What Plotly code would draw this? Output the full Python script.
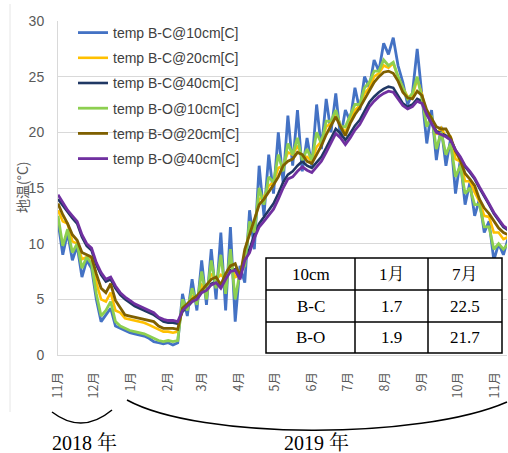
import pandas as pd
import plotly.graph_objects as go

# ---------------- data (4-day samples) ----------------
start_date = "2018-11-01"
n_points = 95

bc10 = [12.0, 9.0, 11.0, 8.5, 9.8, 7.0, 8.5, 7.8,
        5.0, 3.0, 3.6, 4.2, 2.6, 2.4, 2.2, 2.0,
        1.9, 1.8, 1.7, 1.5, 1.2, 1.1, 1.0,
        1.1, 0.9, 1.1, 5.5, 3.5, 6.8, 4.0,
        8.5, 4.5, 9.5, 5.0, 11.0, 4.0, 11.5, 3.0,
        8.0, 6.5, 13.0, 9.5, 17.0, 12.5, 18.0, 14.5,
        20.0, 15.5, 21.5, 17.0, 22.0, 16.5, 19.5,
        17.0, 22.5, 18.5, 23.0, 20.0, 23.5, 19.5, 22.0,
        21.0, 24.0, 22.0, 25.0, 24.0, 26.5, 25.5, 28.0,
        27.0, 28.5, 26.0, 24.5, 22.5, 23.5, 27.5,
        23.0, 19.0, 22.0, 17.5, 20.5, 17.0, 19.5, 14.5,
        17.5, 13.5, 15.5, 12.5, 14.0, 11.0, 12.0, 8.5,
        10.0, 9.0, 10.5]

bc20 = [13.0, 12.0, 11.8, 10.2, 10.0, 8.6, 8.8, 8.7,
        6.5, 5.0, 4.8, 5.6, 4.0, 3.8, 3.3, 3.2,
        3.1, 3.0, 2.9, 2.7, 2.5, 2.3, 2.1,
        2.1, 2.0, 2.1, 4.3, 4.4, 5.3, 5.0,
        6.3, 5.9, 7.3, 6.8, 7.2, 6.8, 8.5, 7.0,
        7.2, 9.0, 11.3, 11.8, 14.0, 14.2, 15.2, 15.5,
        16.8, 17.0, 18.2, 18.0, 18.8, 17.8, 17.8,
        17.4, 18.7, 19.2, 20.5, 20.8, 21.8, 20.6, 20.0,
        21.0, 22.0, 22.4, 23.5, 24.0, 25.0, 25.3, 26.0,
        25.8, 26.2, 25.0, 24.0, 23.2, 23.2, 24.8,
        23.4, 21.5, 21.3, 19.8, 20.4, 19.6, 19.6, 17.6,
        17.4, 15.6, 15.6, 14.6, 13.8, 12.5, 12.4, 11.0,
        11.0, 10.4, 10.6]

bc40 = [14.0, 13.4, 12.8, 12.3, 11.8, 10.6, 9.8, 9.4,
        8.1, 7.2, 6.6, 6.8, 6.0, 5.4, 5.0, 4.7,
        4.4, 4.2, 4.0, 3.8, 3.6, 3.3, 3.0,
        2.9, 2.9, 2.8, 3.9, 4.3, 4.8, 5.0,
        5.7, 5.9, 6.4, 6.6, 6.1, 6.9, 7.6, 7.7,
        6.9, 8.7, 9.5, 10.8, 11.8, 12.4, 13.0, 13.6,
        14.5, 15.5, 16.2, 16.5, 17.0, 17.4, 17.0,
        16.8, 17.3, 17.8, 18.6, 19.4, 20.3, 19.9, 19.3,
        19.9, 20.6, 21.1, 21.9, 22.7, 23.2, 23.6, 23.9,
        24.1, 24.0, 23.3, 22.6, 22.3, 22.5, 23.0,
        22.8, 21.7, 20.9, 20.1, 19.9, 19.7, 19.3, 18.4,
        17.7, 16.9, 16.4, 15.8, 15.0, 14.3, 13.5, 12.7,
        12.1, 11.5, 11.2]

bo10 = [12.5, 9.8, 11.3, 9.2, 10.0, 7.8, 8.8, 8.2,
        5.5, 3.5, 4.0, 4.8, 3.0, 2.6, 2.4, 2.2,
        2.1, 2.0, 1.9, 1.7, 1.5, 1.3, 1.2,
        1.3, 1.2, 1.3, 5.0, 4.0, 6.0, 4.5,
        7.5, 5.0, 8.5, 6.0, 9.0, 5.5, 9.5, 5.0,
        7.5, 8.0, 12.0, 11.0, 15.0, 13.5, 16.0, 15.5,
        18.0, 16.5, 19.0, 18.0, 19.5, 17.5, 18.5,
        17.5, 20.0, 19.0, 21.0, 21.0, 22.0, 20.5, 20.5,
        21.5, 22.5, 22.5, 24.0, 24.5, 25.5, 25.5, 26.5,
        26.0, 26.3, 25.0, 24.0, 23.0, 23.5, 25.0,
        23.0, 20.5, 21.5, 18.5, 20.0, 18.0, 19.0, 16.0,
        17.0, 14.5, 15.0, 13.5, 13.5, 11.5, 11.5, 9.5,
        10.0, 9.5, 10.0]

bo20 = [13.6, 12.6, 11.8, 10.8, 10.3, 9.2, 9.0, 8.8,
        7.3, 6.0, 5.6, 6.4, 4.9, 4.2, 3.6, 3.5,
        3.4, 3.3, 3.2, 3.1, 3.0, 2.6, 2.4,
        2.4, 2.4, 2.3, 4.2, 4.6, 5.0, 5.3,
        5.8, 6.2, 6.8, 7.0, 6.3, 7.3, 8.0, 8.2,
        7.0, 9.5, 10.8, 12.0, 13.5, 14.0, 14.6, 15.3,
        16.0, 17.0, 17.4, 17.6, 18.2, 18.0, 17.4,
        17.2, 18.0, 18.8, 19.8, 20.6, 21.4, 20.5, 19.7,
        20.8, 21.6, 22.2, 23.0, 23.8, 24.5, 25.0, 25.4,
        25.5, 25.3, 24.6, 23.6, 23.1, 23.0, 23.7,
        23.3, 22.0, 21.2, 20.5, 20.3, 20.3, 19.5, 18.3,
        17.5, 16.3, 15.8, 15.2, 14.0, 13.2, 12.7, 12.0,
        11.4, 11.0, 10.8]

bo40 = [14.4, 13.7, 13.0, 12.5, 12.0, 10.8, 10.0, 9.6,
        8.3, 7.4, 6.8, 7.0, 6.2, 5.6, 5.2, 4.9,
        4.6, 4.4, 4.2, 4.0, 3.8, 3.4, 3.2,
        3.1, 3.1, 3.0, 4.0, 4.4, 4.8, 5.0,
        5.6, 5.8, 6.3, 6.5, 6.0, 6.8, 7.5, 7.6,
        6.8, 8.5, 9.2, 10.5, 11.5, 12.0, 12.5, 13.1,
        14.0, 15.0, 15.8, 16.0, 16.5, 16.9, 16.6,
        16.4, 16.9, 17.4, 18.2, 19.0, 19.9, 19.5, 18.9,
        19.5, 20.2, 20.7, 21.5, 22.3, 22.8, 23.2, 23.5,
        23.7, 23.6, 23.0, 22.4, 22.1, 22.3, 22.8,
        22.6, 21.6, 20.8, 20.0, 19.8, 19.6, 19.3, 18.4,
        17.8, 17.0, 16.5, 15.9, 15.1, 14.4, 13.6, 12.8,
        12.2, 11.6, 11.3]

series_names = ["temp B-C@10cm[C]", "temp B-C@20cm[C]", "temp B-C@40cm[C]",
                "temp B-O@10cm[C]", "temp B-O@20cm[C]", "temp B-O@40cm[C]"]

xtick_dates = ["2018-11-01", "2018-12-01", "2019-01-01", "2019-02-01", "2019-03-01",
               "2019-04-01", "2019-05-01", "2019-06-01", "2019-07-01", "2019-08-01",
               "2019-09-01", "2019-10-01", "2019-11-01"]
xtick_text = ["11月", "12月", "1月", "2月", "3月", "4月", "5月", "6月", "7月", "8月",
              "9月", "10月", "11月"]

y_title = "地温(°C)"

table_header = ["10cm", "1月", "7月"]
table_rows = [["B-C", "1.7", "22.5"],
              ["B-O", "1.9", "21.7"]]

year_labels = ["2018 年", "2019 年"]

# ---------------- styling ----------------
colors = ["#4472C4", "#FFC000", "#203864", "#8DCF50", "#7F6000", "#7030A0"]
widths = [2.8, 2.6, 2.6, 2.8, 2.8, 2.8]

W, H = 508, 453
L, R, T, B = 58, 1, 21, 98
PW, PH = W - L - R, H - T - B


def px(x):
    return (x - L) / PW


def py(y):
    return (H - B - y) / PH


dates = pd.date_range(start_date, periods=n_points, freq="4D")
values = [bc10, bc20, bc40, bo10, bo20, bo40]

fig = go.Figure()
for i, (name, vals) in enumerate(zip(series_names, values)):
    fig.add_trace(go.Scatter(
        x=dates, y=vals, mode="lines", name=name,
        legendgroup=f"g{i}",
        line=dict(color=colors[i], width=widths[i]),
    ))

shapes = []
annotations = []

# table
tx = [266, 355, 428, 502]
ty = [258, 290, 322, 353]
shapes.append(dict(type="rect", xref="paper", yref="paper",
                   x0=px(tx[0]), x1=px(tx[-1]), y0=py(ty[-1]), y1=py(ty[0]),
                   fillcolor="white", line=dict(color="black", width=1.5), layer="above"))
for xv in tx[1:-1]:
    shapes.append(dict(type="line", xref="paper", yref="paper",
                       x0=px(xv), x1=px(xv), y0=py(ty[-1]), y1=py(ty[0]),
                       line=dict(color="black", width=1.5)))
for yv in ty[1:-1]:
    shapes.append(dict(type="line", xref="paper", yref="paper",
                       x0=px(tx[0]), x1=px(tx[-1]), y0=py(yv), y1=py(yv),
                       line=dict(color="black", width=1.5)))

serif = "Liberation Serif, Noto Serif CJK JP, Noto Sans CJK JP, serif"
rows_all = [table_header] + table_rows
for r, row in enumerate(rows_all):
    cy = (ty[r] + ty[r + 1]) / 2
    for c, txt in enumerate(row):
        cx = (tx[c] + tx[c + 1]) / 2
        annotations.append(dict(xref="paper", yref="paper", x=px(cx), y=py(cy),
                                text=txt, showarrow=False, xanchor="center", yanchor="middle",
                                font=dict(family=serif, size=17, color="black")))

# brackets under the month labels
shapes.append(dict(type="path", xref="paper", yref="paper",
                   path=f"M {px(52)},{py(412)} Q {px(82)},{py(435)} {px(112)},{py(410)}",
                   line=dict(color="black", width=1.5)))
shapes.append(dict(type="path", xref="paper", yref="paper",
                   path=(f"M {px(127)},{py(400)} C {px(200)},{py(440)} "
                         f"{px(420)},{py(440)} {px(507)},{py(402)}"),
                   line=dict(color="black", width=1.5)))

annotations.append(dict(xref="paper", yref="paper", x=px(84), y=py(443), text=year_labels[0],
                        showarrow=False, xanchor="center", yanchor="middle",
                        font=dict(family=serif, size=20, color="black")))
annotations.append(dict(xref="paper", yref="paper", x=px(316), y=py(443), text=year_labels[1],
                        showarrow=False, xanchor="center", yanchor="middle",
                        font=dict(family=serif, size=20, color="black")))

# y-axis title (placed as rotated text)
annotations.append(dict(xref="paper", yref="paper", x=px(22), y=py(187), text=y_title,
                        showarrow=False, xanchor="center", yanchor="middle", textangle=-90,
                        font=dict(family="Noto Sans CJK JP, sans-serif", size=14, color="#595959")))

# faint chart-area border on the left
shapes.append(dict(type="line", xref="paper", yref="paper",
                   x0=px(10), x1=px(10), y0=py(412), y1=py(4),
                   line=dict(color="#E6E6E6", width=1)))

fig.update_layout(
    width=W, height=H,
    margin=dict(l=L, r=R, t=T, b=B, pad=0),
    paper_bgcolor="white", plot_bgcolor="white",
    font=dict(family="Liberation Sans, Noto Sans CJK JP, sans-serif", size=13, color="#595959"),
    showlegend=True,
    legend=dict(x=px(73), y=py(17), xanchor="left", yanchor="top",
                bgcolor="rgba(0,0,0,0)", borderwidth=0,
                font=dict(family="Liberation Sans, sans-serif", size=14, color="#404040"),
                tracegroupgap=4, itemwidth=30),
    shapes=shapes,
    annotations=annotations,
)

fig.update_xaxes(
    type="date", range=["2018-11-01", "2019-11-11"],
    tickmode="array", tickvals=xtick_dates, ticktext=xtick_text,
    tickangle=-90, showgrid=False, zeroline=False,
    showline=True, linecolor="#D9D9D9", linewidth=1,
    ticks="", ticklabelstandoff=11,
    tickfont=dict(family="Noto Sans CJK JP, sans-serif", size=12.5, color="#595959"),
)
fig.update_yaxes(
    range=[0, 30], dtick=5, tick0=0,
    showgrid=True, gridcolor="#D9D9D9", gridwidth=1, zeroline=False,
    showline=True, linecolor="#D9D9D9", linewidth=1,
    ticks="", ticklabelstandoff=10,
    tickfont=dict(family="Liberation Sans, sans-serif", size=14, color="#595959"),
)

fig.write_html("out.html", config={"displayModeBar": False},
               post_script="document.body.style.margin='0';")
